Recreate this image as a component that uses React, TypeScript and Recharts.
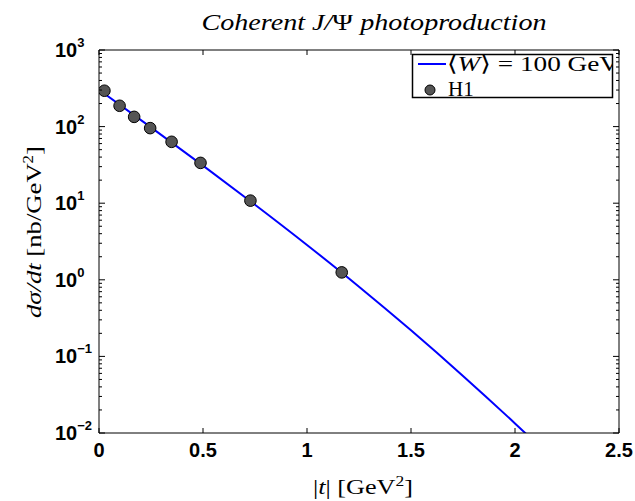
import React from "react";
import { ComposedChart, Line, Scatter, XAxis, YAxis } from "recharts";

// model curve, <W> = 100 GeV
const curveT = [0, 0.25, 0.5, 0.75, 1.0, 1.25, 1.5, 1.75, 2.0, 2.1];
const curveW100 = [302, 97.7, 30.9, 9.55, 2.85, 0.813, 0.219, 0.0556, 0.01334, 0.00741];

// H1 data points
const h1T = [0.026, 0.099, 0.169, 0.246, 0.349, 0.488, 0.728, 1.167];
const h1Dsdt = [294, 187, 134, 95.5, 63.3, 33.6, 10.8, 1.25];

const xTicks = [0, 0.5, 1, 1.5, 2, 2.5];
const yDecades = [0.01, 0.1, 1, 10, 100];
const yTicks = [
  ...yDecades.flatMap((d) => [1, 2, 3, 4, 5, 6, 7, 8, 9].map((m) => m * d)),
  1000,
];

const curveData = curveT.map((t, i) => ({ t, v: curveW100[i] }));
const h1Data = h1T.map((t, i) => ({ t, v: h1Dsdt[i] }));

const tickFont = "'Liberation Sans', Arial, sans-serif";
const texFont = "'Liberation Serif', 'DejaVu Serif', serif";

const isMajor = (v: number) =>
  Math.abs(Math.log10(v) - Math.round(Math.log10(v))) < 1e-9;

const LeftTick = ({ x, y, payload }: any) => {
  const v = payload.value;
  const e = Math.round(Math.log10(v));
  const major = isMajor(v);
  return (
    <g>
      <line x1={x} x2={x + (major ? 6 : 3)} y1={y} y2={y} stroke="#000" />
      {major && (
        <text
          x={x - 44}
          y={y + 7}
          fontFamily={tickFont}
          fontWeight="bold"
          fontSize={20}
          fill="#000"
        >
          10
          <tspan dy={-10} fontSize={13}>
            {e < 0 ? "\u2212" + -e : String(e)}
          </tspan>
        </text>
      )}
    </g>
  );
};

const RightTick = ({ x, y, payload }: any) => {
  const major = isMajor(payload.value);
  return <line x1={x} x2={x - (major ? 6 : 3)} y1={y} y2={y} stroke="#000" />;
};

const BottomTick = ({ x, y, payload }: any) => (
  <g>
    <line x1={x} x2={x} y1={y} y2={y - 5} stroke="#000" />
    <text
      x={x}
      y={y + 24}
      textAnchor="middle"
      fontFamily={tickFont}
      fontWeight="bold"
      fontSize={20}
      fill="#000"
    >
      {payload.value}
    </text>
  </g>
);

const TopTick = ({ x, y }: any) => (
  <line x1={x} x2={x} y1={y} y2={y + 5} stroke="#000" />
);

const H1Dot = (props: any) => (
  <circle cx={props.cx} cy={props.cy} r={5.8} fill="#555" stroke="#000" strokeWidth={1} />
);

export default function App() {
  return (
    <div style={{ position: "absolute", left: 0, top: 0, width: 635, height: 501, background: "#fff" }}>
      <ComposedChart width={635} height={501} margin={{ top: 0, right: 1, bottom: 0, left: 0 }}>
        <XAxis
          xAxisId="bottom"
          type="number"
          dataKey="t"
          domain={[0, 2.5]}
          ticks={xTicks}
          interval={0}
          height={68}
          tickSize={0}
          tickMargin={0}
          tickLine={false}
          axisLine={{ stroke: "#000" }}
          tick={<BottomTick />}
          allowDataOverflow
        />
        <XAxis
          xAxisId="top"
          orientation="top"
          type="number"
          dataKey="t"
          domain={[0, 2.5]}
          ticks={xTicks}
          interval={0}
          height={50}
          tickSize={0}
          tickMargin={0}
          tickLine={false}
          axisLine={{ stroke: "#000" }}
          tick={<TopTick />}
          allowDataOverflow
        />
        <YAxis
          yAxisId="left"
          type="number"
          scale="log"
          domain={[0.01, 1000]}
          ticks={yTicks}
          interval={0}
          width={99}
          tickSize={0}
          tickMargin={0}
          tickLine={false}
          axisLine={{ stroke: "#000" }}
          tick={<LeftTick />}
          allowDataOverflow
        />
        <YAxis
          yAxisId="right"
          orientation="right"
          type="number"
          scale="log"
          domain={[0.01, 1000]}
          ticks={yTicks}
          interval={0}
          width={15}
          tickSize={0}
          tickMargin={0}
          tickLine={false}
          axisLine={{ stroke: "#000" }}
          tick={<RightTick />}
          allowDataOverflow
        />
        <Line
          xAxisId="bottom"
          yAxisId="left"
          data={curveData}
          dataKey="v"
          type="monotone"
          stroke="#0000ff"
          strokeWidth={2}
          dot={false}
          isAnimationActive={false}
        />
        <Scatter
          xAxisId="bottom"
          yAxisId="left"
          data={h1Data}
          dataKey="v"
          shape={H1Dot}
          isAnimationActive={false}
        />
      </ComposedChart>
      <svg
        width={635}
        height={501}
        style={{ position: "absolute", left: 0, top: 0, pointerEvents: "none" }}
      >
        <defs>
          <clipPath id="legclip">
            <rect x={0} y={0} width={612} height={501} />
          </clipPath>
        </defs>
        <text
          x={374}
          y={30}
          textAnchor="middle"
          textLength={345}
          lengthAdjust="spacingAndGlyphs"
          fontFamily={texFont}
          fontSize={23}
          fontStyle="italic"
          fill="#000"
        >
          Coherent J/<tspan fontStyle="normal">Ψ</tspan> photoproduction
        </text>
        <text
          x={363}
          y={494}
          textAnchor="middle"
          textLength={100}
          lengthAdjust="spacingAndGlyphs"
          fontFamily={texFont}
          fontSize={21}
          fill="#000"
        >
          |<tspan fontStyle="italic">t</tspan>| [GeV<tspan dy={-8} fontSize={14}>2</tspan>
          <tspan dy={8}>]</tspan>
        </text>
        <text
          x={0}
          y={0}
          textAnchor="middle"
          textLength={172}
          lengthAdjust="spacingAndGlyphs"
          transform="translate(41 232) rotate(-90)"
          fontFamily={texFont}
          fontSize={22}
          fill="#000"
        >
          <tspan fontStyle="italic">dσ/dt</tspan> [nb/GeV<tspan dy={-8} fontSize={14}>2</tspan>
          <tspan dy={8}>]</tspan>
        </text>
        <rect x={412.5} y={54.5} width={200} height={43} fill="#fff" stroke="#000" strokeWidth={1.5} />
        <g clipPath="url(#legclip)">
          <line x1={418} x2={446} y1={64} y2={64} stroke="#0000ff" strokeWidth={2} />
          <text
            x={447}
            y={71}
            textLength={172}
            lengthAdjust="spacingAndGlyphs"
            fontFamily={texFont}
            fontSize={21}
            fill="#000"
          >
            {"\u27E8"}<tspan fontStyle="italic">W</tspan>{"\u27E9 = 100 GeV"}
          </text>
          <circle cx={430} cy={90} r={5} fill="#555" stroke="#000" />
          <text x={448} y={96} fontFamily={texFont} fontSize={21} fill="#000">
            H1
          </text>
        </g>
      </svg>
    </div>
  );
}
